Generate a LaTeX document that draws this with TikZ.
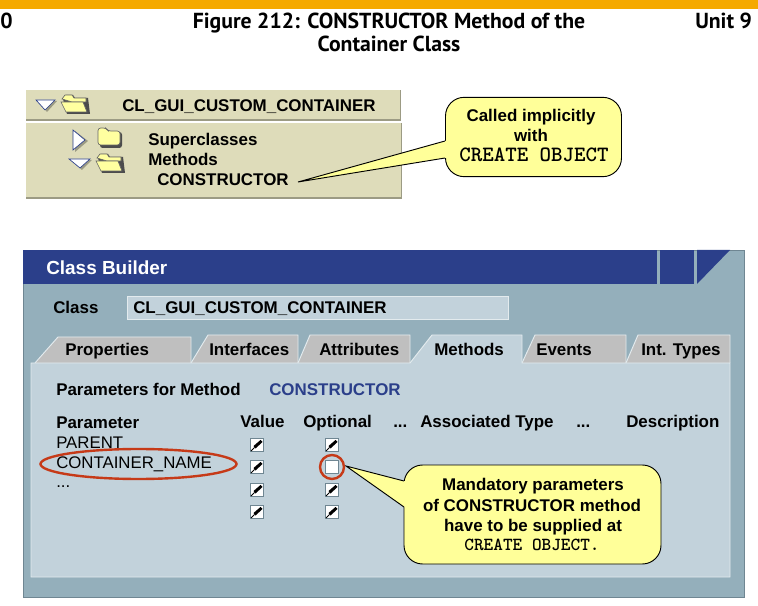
\documentclass[tikz,border=0pt]{standalone}
\usepackage{fontspec}
\setmainfont{Liberation Sans}
\newfontfamily\headfont{PT Sans}
\usetikzlibrary{positioning,shapes.geometric}
\pgfdeclarelayer{edgelayer}
\pgfdeclarelayer{nodelayer}
\pgfsetlayers{edgelayer,nodelayer,main}
\definecolor{barorange}{HTML}{F5A900}
\definecolor{khaki}{HTML}{DEDCBA}
\definecolor{khakidark}{HTML}{9C9B84}
\definecolor{slate}{HTML}{94AFBB}
\definecolor{slatedark}{HTML}{6F8692}
\definecolor{pale}{HTML}{C2D2DB}
\definecolor{paleline}{HTML}{E3EBEE}
\definecolor{navy}{HTML}{2B3F8A}
\definecolor{tabgrey}{HTML}{BFBFBF}
\definecolor{noteyellow}{HTML}{FFFF99}
\definecolor{marker}{HTML}{C63A18}
\definecolor{folderyellow}{HTML}{FFFFA0}
\tikzstyle{label}=[inner sep=0pt,anchor=base west,font=\fontsize{12.7pt}{15pt}\selectfont\bfseries]
\tikzstyle{plain}=[label,font=\fontsize{12.6pt}{15pt}\selectfont]
\tikzstyle{centered}=[label,anchor=base]
\tikzstyle{heading}=[inner sep=0pt,anchor=base,font=\fontsize{16.3pt}{18pt}\selectfont\headfont\bfseries]
\tikzstyle{monoA}=[inner sep=0pt,anchor=base,font=\fontsize{16.4pt}{18pt}\selectfont\ttfamily\bfseries]
\tikzstyle{monoB}=[inner sep=0pt,anchor=base,font=\fontsize{13.8pt}{18pt}\selectfont\ttfamily\bfseries]
\tikzstyle{note}=[rectangle,rounded corners=14,fill=noteyellow,draw=black,line width=0.7pt]
\tikzstyle{tab}=[fill=tabgrey,draw=paleline,line width=0.7pt]
\tikzstyle{tree}=[fill=white,draw=navy,line width=0.5pt]
\tikzstyle{treeshadow}=[fill=khakidark]
\tikzstyle{box}=[rectangle,fill=white,draw=slatedark,line width=0.6pt,minimum size=9.5pt,inner sep=0pt]
\tikzstyle{ring}=[ellipse,draw=marker,line width=1.8pt,inner sep=0pt]
\tikzset{
	pencil/.pic={
		\fill [black] (-3.5,1) -- (3.5,-5) -- (5.5,-3) -- (-1.5,3.5) -- cycle;
		\draw [black,line width=0.6pt] (-6,6) -- (-2.5,2.5);
	},
	openfolder/.pic={
		\fill [black!70] (-12,-5) -- (-9,-9) -- (-2,-9) -- (0,-6) -- (13,-6) -- (15,10) -- (-8,10) -- cycle;
		\draw [fill=folderyellow,draw=black!60,line width=0.5pt] (-13,-5) -- (-10,-9) -- (-3,-9) -- (-1,-6) -- (11,-6) -- (11,-2) -- (-3,-2) -- (-13,-5) -- cycle;
		\draw [fill=folderyellow,draw=black!60,line width=0.5pt] (-14,-2) -- (8,-2) -- (12,8) -- (-9,8) -- cycle;
	},
	closedfolder/.pic={
		\fill [black!70,rounded corners=2] (-10,-9) -- (-3,-9) -- (-1,-6) -- (12,-6) -- (12,10) -- (-10,10) -- cycle;
		\draw [fill=folderyellow,draw=black!60,line width=0.5pt,rounded corners=2] (-12,-10) -- (-4,-10) -- (-2,-7) -- (10,-7) -- (10,7) -- (-12,7) -- cycle;
	}
}

\begin{document}
\begin{tikzpicture}[x=0.75pt,y=-0.75pt]
	\useasboundingbox (0,0) rectangle (758,606);
	\begin{pgfonlayer}{edgelayer}
		\fill [barorange] (0,0) rectangle (758,9);
		% tree panel
		\fill [khakidark] (26,90) rectangle (401,121);
		\fill [khaki] (26,90) rectangle (400,119.5);
		\fill [khakidark] (26,123) rectangle (402,199);
		\fill [khaki] (26,123) rectangle (401,197.5);
		% class builder
		\fill [slatedark] (23,250) rectangle (745,598);
		\fill [slate] (24,251) rectangle (744,597);
		\fill [navy] (23,250) rectangle (657,284);
		\fill [navy] (660,250) rectangle (694,284);
		\fill [navy] (697,250) -- (730,250) -- (697,284) -- cycle;
		\draw [draw=paleline,fill=pale,line width=0.7pt] (127,296) rectangle (508,319);
		\draw [style=tab] (35,363) -- (58,337) -- (191,337) -- (191,363);
		\draw [style=tab] (191,363) -- (208,335) -- (298,335) -- (298,363);
		\draw [style=tab] (298,363) -- (310,335) -- (410,335) -- (410,363);
		\draw [style=tab] (522,363) -- (535,335) -- (626,335) -- (626,363);
		\draw [style=tab] (626,363) -- (638,335) -- (730,335) -- (730,363);
		\draw [draw=paleline,fill=pale,line width=0.7pt] (31,363) -- (410,363) -- (432,335) -- (522,335) -- (522,363) -- (730,363) -- (730,577) -- (31,577) -- cycle;
	\end{pgfonlayer}
	\begin{pgfonlayer}{nodelayer}
		\node [style=heading,anchor=base west] (page) at (0,29) {0};
		\node [style=heading] (figA) at (389,29) {Figure 212: CONSTRUCTOR Method of the};
		\node [style=heading] (figB) at (389,52) {Container Class};
		\node [style=heading,anchor=base west] (unit) at (695,29) {Unit 9};
		\node [style=label] (treeclass) at (122,112) {CL\_GUI\_CUSTOM\_CONTAINER};
		\node [style=label] (super) at (148,146) {Superclasses};
		\node [style=label] (methods) at (148,166) {Methods};
		\node [style=label] (ctor) at (157,186) {CONSTRUCTOR};
		\node [style=note,minimum width=132pt,minimum height=59.5pt] (noteA) at (533.5,137) {};
		\node [style=centered] (noteA1) at (531,122) {Called implicitly};
		\node [style=centered] (noteA2) at (531,142) {with};
		\node [style=monoA] (noteA3) at (534,162) {CREATE OBJECT};
		\node [style=label,text=white,font=\fontsize{14.2pt}{18pt}\selectfont\bfseries] (builder) at (46,275) {Class Builder};
		\node [style=label] (classlbl) at (53,314) {Class};
		\node [style=label] (classval) at (133,314) {CL\_GUI\_CUSTOM\_CONTAINER};
		\node [style=label] (tabA) at (65,356) {Properties};
		\node [style=label] (tabB) at (209,356) {Interfaces};
		\node [style=label] (tabC) at (319,356) {Attributes};
		\node [style=label] (tabD) at (434,356) {Methods};
		\node [style=label] (tabE) at (536,356) {Events};
		\node [style=label] (tabF) at (641,356) {Int. Types};
		\node [style=label] (params) at (56,396) {Parameters for Method};
		\node [style=label,text=navy] (paramsval) at (269,396) {CONSTRUCTOR};
		\node [style=label] (colA) at (56,428) {Parameter};
		\node [style=label] (colB) at (240,427) {Value};
		\node [style=label] (colC) at (303,427) {Optional};
		\node [style=label] (colD) at (393,427) {...};
		\node [style=label] (colE) at (420,427) {Associated Type};
		\node [style=label] (colF) at (576,427) {...};
		\node [style=label] (colG) at (626,427) {Description};
		\node [style=plain] (rowA) at (56,449) {PARENT};
		\node [style=plain] (rowB) at (56,469) {CONTAINER\_NAME};
		\node [style=plain] (rowC) at (56,488) {...};
		\node [style=box] (valA) at (257,445) {};
		\node [style=box] (valB) at (257,467) {};
		\node [style=box] (valC) at (257,490) {};
		\node [style=box] (valD) at (257,512) {};
		\node [style=box] (optA) at (332,445) {};
		\node [style=box] (optB) at (332,467) {};
		\node [style=box] (optC) at (332,490) {};
		\node [style=box] (optD) at (332,512) {};
		\node [style=note,minimum width=192.75pt,minimum height=74.25pt] (noteB) at (532.5,514.5) {};
		\node [style=centered] (noteB1) at (533,490) {Mandatory parameters};
		\node [style=centered] (noteB2) at (532,511) {of CONSTRUCTOR method};
		\node [style=centered] (noteB3) at (533,531) {have to be supplied at};
		\node [style=monoB] (noteB4) at (532,550) {CREATE OBJECT.};
	\end{pgfonlayer}
	% ticks
	\pic at (valA) {pencil};
	\pic at (valB) {pencil};
	\pic at (valC) {pencil};
	\pic at (valD) {pencil};
	\pic at (optA) {pencil};
	\pic at (optC) {pencil};
	\pic at (optD) {pencil};
	% folders and triangles
	\pic at (75,104) {openfolder};
	\pic at (110,138) {closedfolder};
	\pic at (110,163) {openfolder};
	\fill [style=treeshadow] (38,101) -- (57,101) -- (47,112) -- cycle;
	\draw [style=tree] (36,100) -- (55,100) -- (45,110) -- cycle;
	\fill [style=treeshadow] (75,131) -- (88,141) -- (75,152) -- cycle;
	\draw [style=tree] (73,130) -- (85,140) -- (73,150) -- cycle;
	\fill [style=treeshadow] (71,160) -- (92,160) -- (82,170) -- cycle;
	\draw [style=tree] (69,159) -- (90,159) -- (80,168) -- cycle;
	% callout tails
	\coordinate (tipA) at (298,182);
	\coordinate (tailAtop) at (445,141);
	\coordinate (tailAbot) at (445,158);
	\fill [noteyellow] (tipA) -- (tailAtop) -- ([xshift=1pt]tailAtop) -- ([xshift=1pt]tailAbot) -- (tailAbot) -- cycle;
	\draw [line width=0.7pt] (tailAtop) -- (tipA) -- (tailAbot);
	\coordinate (tipB) at (346,466);
	\coordinate (tailBtop) at (404,481);
	\coordinate (tailBbot) at (404,507);
	\fill [noteyellow] (tipB) -- (tailBtop) -- ([xshift=1pt]tailBtop) -- ([xshift=1pt]tailBbot) -- (tailBbot) -- cycle;
	\draw [line width=0.7pt] (tailBtop) -- (tipB) -- (tailBbot);
	% red marks
	\node [style=ring,minimum width=147pt,minimum height=22.5pt] (ringname) at (138.5,464) {};
	\node [style=ring,minimum width=18pt,minimum height=18pt] (ringopt) at (332,467) {};
\end{tikzpicture}
\end{document}
